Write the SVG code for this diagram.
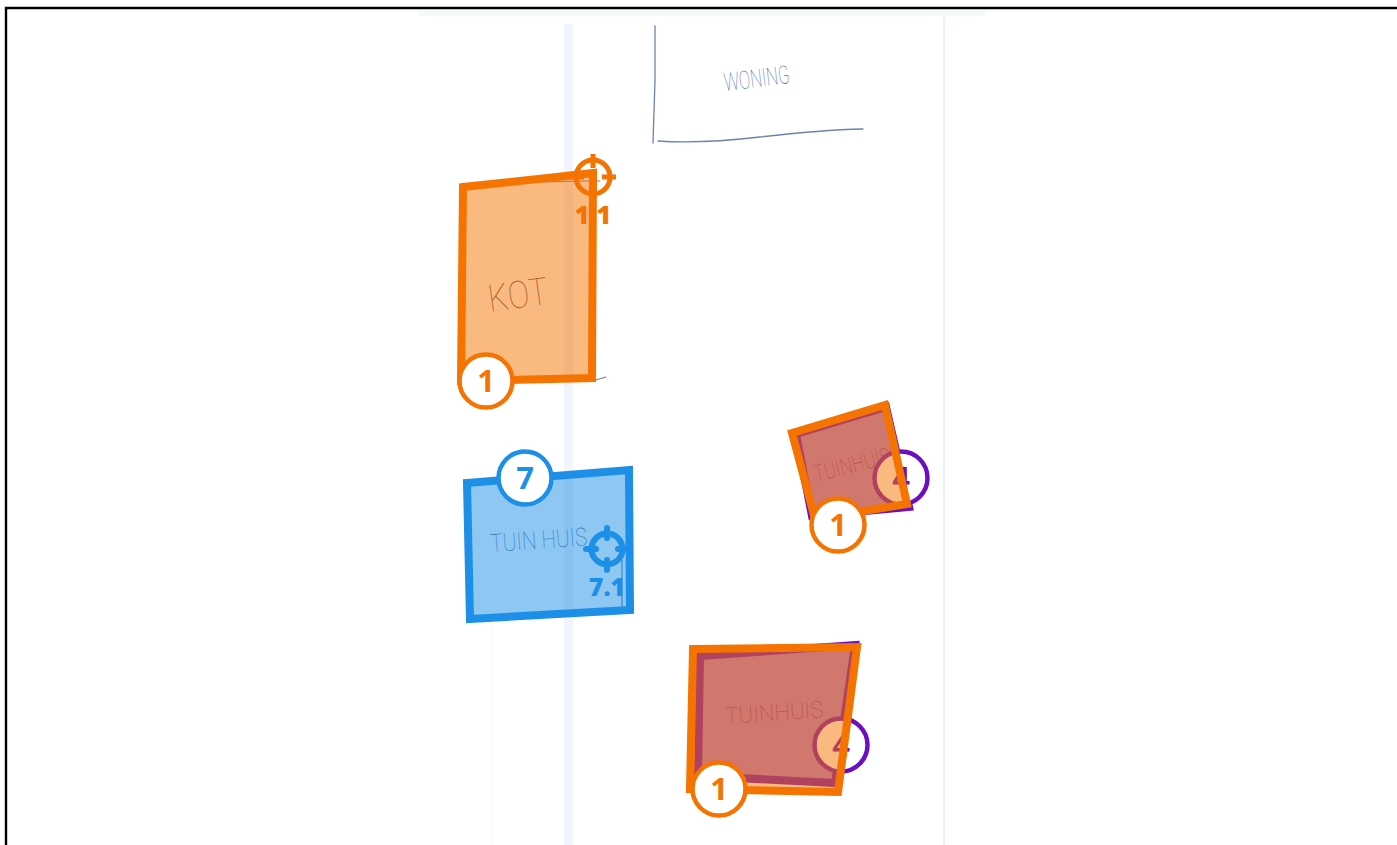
<svg xmlns="http://www.w3.org/2000/svg" width="1397" height="845" viewBox="0 0 1397 845">
<style>
.o{stroke:#f57300;fill:#f57300}
.b{stroke:#1e8fe6;fill:#1e8fe6}
.p{stroke:#6a10c0;fill:#6a10c0}
.shape{stroke-width:8;fill-opacity:.5;stroke-linejoin:miter}
.pshape{stroke-width:8;fill-opacity:.55;stroke-linejoin:miter}
.ring{fill:#fff;stroke-width:4.5}
.num{font-family:"Open Sans","Liberation Sans",sans-serif;font-weight:700;font-size:31px;text-anchor:middle;stroke:none}
.lab{font-family:"Open Sans","Liberation Sans",sans-serif;font-weight:800;font-size:25px;text-anchor:middle;stroke:none}
.cross{fill:none;stroke-width:5}
.hand{font-family:Roboto,"Liberation Sans",sans-serif;font-weight:100;stroke:none}
.sk{fill:none;stroke-linecap:round}
</style>
<rect width="1397" height="845" fill="#fff"/>
<g id="page">
<rect x="419" y="10" width="566" height="6" fill="#f4fafa"/>
<rect x="564" y="24" width="9" height="821" fill="#f1f4fb"/>
<rect x="943" y="17" width="2" height="828" fill="#e6f3f4"/>
<rect x="491" y="620" width="3" height="225" fill="#fafbfb"/>
<path class="sk" d="M655 26 L655 80 L653 143" stroke="#6d83ad" stroke-width="1.3"/>
<path class="sk" d="M658 141 Q700 144 760 137 T863 129" stroke="#6d83ad" stroke-width="1.3"/>
<text class="hand" transform="translate(725 91) rotate(-7)" font-size="25" fill="#3f64a8" textLength="66" lengthAdjust="spacingAndGlyphs">WONING</text>
<path class="sk" d="M466 184 L582 181 L600 181" stroke="#80808a" stroke-width="1.2"/>
<path class="sk" d="M596 380 L606 377" stroke="#80808a" stroke-width="1.2"/>
<text class="hand" transform="translate(490 312) rotate(-8)" font-size="38" fill="#5d5560" textLength="60" lengthAdjust="spacingAndGlyphs">KOT</text>
<path class="sk" d="M622 560 L622 608" stroke="#5d7fa8" stroke-width="1.2"/>
<text class="hand" transform="translate(491 552) rotate(-4)" font-size="25" fill="#3d5f90" textLength="97" lengthAdjust="spacingAndGlyphs" xml:space="preserve">TUIN HUIS</text>
<text class="hand" transform="translate(816 482) rotate(-14)" font-size="23" fill="#6a3a4a" textLength="78" lengthAdjust="spacingAndGlyphs">TUINHUIS</text>
<text class="hand" transform="translate(726 724) rotate(-4)" font-size="23" fill="#6a3a4a" textLength="98" lengthAdjust="spacingAndGlyphs">TUINHUIS</text>
</g>
<g id="frame"><path d="M6 845 V8 H1397" fill="none" stroke="#000" stroke-width="2.4"/></g>
<g id="connectors"></g>
<g id="node-4-a">
<polygon class="p pshape" points="796,434 886,407 909,507 812,516"/>
<circle class="p ring" cx="901" cy="478" r="26.5"/>
<text class="p num" x="901" y="489">4</text>
</g>
<g id="node-4-b">
<polygon class="p pshape" points="700,656 855,645 835,783 698,776"/>
<circle class="p ring" cx="841" cy="745" r="26.5"/>
<text class="p num" x="841" y="756">4</text>
</g>
<g id="node-1-kot">
<polygon class="o shape" points="463,187 593,173 592,378 461,381"/>
<g class="o cross"><circle cx="593" cy="177" r="17"/><path d="M593 154 V168 M593 186 V200 M570 177 H584 M602 177 H616"/></g>
<text class="o lab" x="593" y="224">1.1</text>
<circle class="o ring" cx="486" cy="381" r="26.5"/>
<text class="o num" x="486" y="392">1</text>
</g>
<g id="node-1-a">
<polygon class="o shape" points="792,433 885,405 907,504 815,519"/>
<circle class="o ring" cx="838" cy="525" r="26.5"/>
<text class="o num" x="838" y="536">1</text>
</g>
<g id="node-1-b">
<polygon class="o shape" points="693,649 857,647 838,792 690,789"/>
<circle class="o ring" cx="719" cy="789" r="26.5"/>
<text class="o num" x="719" y="800">1</text>
</g>
<g id="node-7">
<polygon class="b shape" points="467,483 629,470 630,610 470,619"/>
<g class="b cross"><circle cx="607" cy="549" r="15.5" stroke-width="6"/><path d="M607 528 V538 M607 560 V570 M586 549 H596 M618 549 H628" stroke-linecap="round" stroke-width="6"/></g>
<text class="b lab" x="607" y="596">7.1</text>
<circle class="b ring" cx="525" cy="478" r="26.5"/>
<text class="b num" x="525" y="489">7</text>
</g>
</svg>
